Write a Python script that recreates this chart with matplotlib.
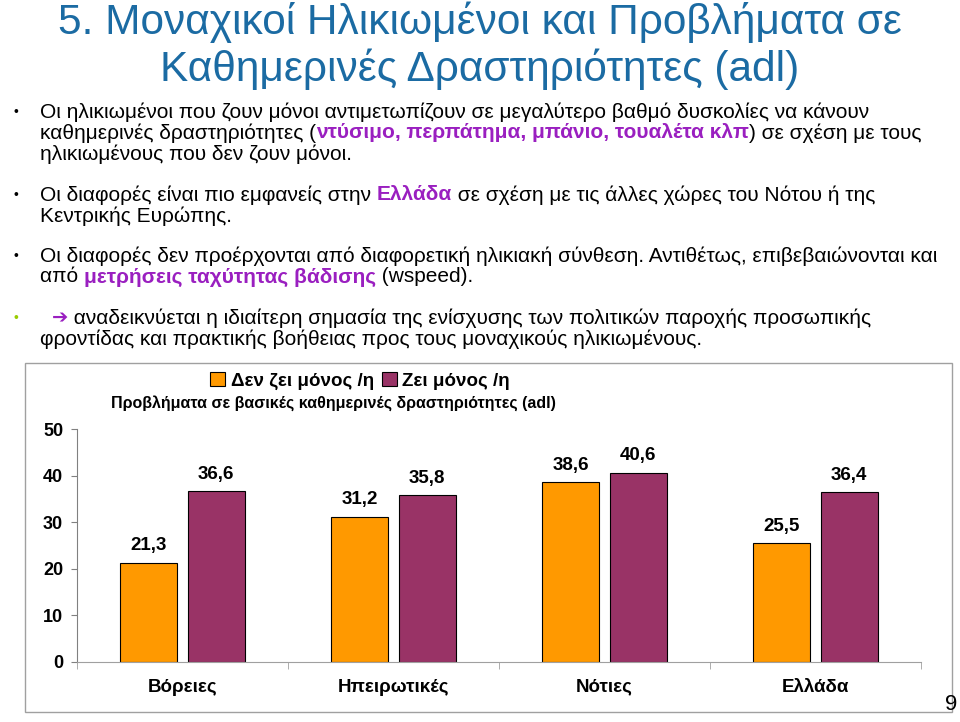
import numpy as np
import matplotlib
matplotlib.use('Agg')
import matplotlib.pyplot as plt
from matplotlib.patches import Rectangle

# data
regions = ['Βόρειες', 'Ηπειρωτικές', 'Νότιες', 'Ελλάδα']
not_alone = [21.3, 31.2, 38.6, 25.5]
alone = [36.6, 35.8, 40.6, 36.4]
series_names = ['Δεν ζει μόνος /η', 'Ζει μόνος /η']
y_ticks = [0, 10, 20, 30, 40, 50]

title_lines = ['5. Μοναχικοί Ηλικιωμένοι και Προβλήματα σε',
               'Καθημερινές Δραστηριότητες (adl)']
chart_title = 'Προβλήματα σε βασικές καθημερινές δραστηριότητες (adl)'

W, H = 960, 722
NARROW = ['Liberation Sans Narrow', 'Liberation Sans', 'DejaVu Sans']
ARIAL = ['Liberation Sans', 'DejaVu Sans']
BLUE = '#1B6BA3'
VIOLET = '#9A1FC0'
ORANGE = '#FF9900'
PLUM = '#993366'

fig = plt.figure(figsize=(W / 100, H / 100), dpi=100)
fig.patch.set_facecolor('white')
renderer = fig.canvas.get_renderer()


def fx(px):
    return px / W


def fy(py):
    return 1 - py / H


def seg_width(s, **kw):
    a = fig.text(0, 0, 'x' + s + 'x', **kw)
    b = fig.text(0, 0, 'xx', **kw)
    w = a.get_window_extent(renderer).width - b.get_window_extent(renderer).width
    a.remove()
    b.remove()
    return w


def draw_line(x, y, parts, size=15):
    # parts: list of (text, color, weight[, family, size])
    for p in parts:
        s, c, wgt = p[:3]
        fam = p[3] if len(p) > 3 else NARROW
        sz = p[4] if len(p) > 4 else size
        kw = dict(fontsize=sz, family=fam, fontweight=wgt, color=c)
        fig.text(fx(x), fy(y), s, va='center', ha='left', **kw)
        x += seg_width(s, **kw)


# title
for i, line in enumerate(title_lines):
    fig.text(0.5, fy(22 + i * 47), line, ha='center', va='center',
             fontsize=30.5, family=NARROW, color=BLUE)

# bullets
k = 'black'
bullets = [
    (112, 'black', [
        [('Οι ηλικιωμένοι που ζουν μόνοι αντιμετωπίζουν σε μεγαλύτερο βαθμό δυσκολίες να κάνουν', k, 'normal')],
        [('καθημερινές δραστηριότητες (', k, 'normal'),
         ('ντύσιμο, περπάτημα, μπάνιο, τουαλέτα κλπ', VIOLET, 'bold'),
         (') σε σχέση με τους', k, 'normal')],
        [('ηλικιωμένους που δεν ζουν μόνοι.', k, 'normal')]]),
    (195, 'black', [
        [('Οι διαφορές είναι πιο εμφανείς στην ', k, 'normal'),
         ('Ελλάδα', VIOLET, 'bold'),
         (' σε σχέση με τις άλλες χώρες του Νότου ή της', k, 'normal')],
        [('Κεντρικής Ευρώπης.', k, 'normal')]]),
    (256, 'black', [
        [('Οι διαφορές δεν προέρχονται από διαφορετική ηλικιακή σύνθεση. Αντιθέτως, επιβεβαιώνονται και', k, 'normal')],
        [('από ', k, 'normal'),
         ('μετρήσεις ταχύτητας βάδισης', VIOLET, 'bold'),
         (' (wspeed).', k, 'normal')]]),
    (318, '#99CC00', [
        [('  ', k, 'normal'),
         ('➔', VIOLET, 'bold', ['DejaVu Sans'], 14),
         (' αναδεικνύεται η ιδιαίτερη σημασία της ενίσχυσης των πολιτικών παροχής προσωπικής', k, 'normal')],
        [('φροντίδας και πρακτικής βοήθειας προς τους μοναχικούς ηλικιωμένους.', k, 'normal')]]),
]
for y0, dot_c, lines in bullets:
    fig.text(fx(14), fy(y0), '•', fontsize=10, color=dot_c, va='center', family=ARIAL)
    for j, parts in enumerate(lines):
        draw_line(40, y0 + j * 21, parts)

# chart frame
fig.patches.append(Rectangle((fx(25), fy(712)), fx(952) - fx(25), fy(363) - fy(712),
                             transform=fig.transFigure, fill=False,
                             edgecolor='#A0A0A0', linewidth=1))

ax = fig.add_axes([fx(77), fy(662), fx(921) - fx(77), (662 - 429) / H])
x = np.arange(len(regions))
bw = 0.27
off = 0.16
b1 = ax.bar(x - off, not_alone, bw, color=ORANGE, edgecolor='black', linewidth=0.8,
            label=series_names[0])
b2 = ax.bar(x + off, alone, bw, color=PLUM, edgecolor='black', linewidth=0.8,
            label=series_names[1])
for bars, vals in ((b1, not_alone), (b2, alone)):
    for r, v in zip(bars, vals):
        ax.annotate(('%.1f' % v).replace('.', ','),
                    (r.get_x() + r.get_width() / 2, v), xytext=(0, 6),
                    textcoords='offset points', ha='center', va='bottom',
                    fontsize=13.5, fontweight='bold', family=ARIAL)

ax.set_xlim(-0.5, len(regions) - 0.5)
ax.set_ylim(0, 50)
ax.set_yticks(y_ticks)
ax.set_yticklabels([str(t) for t in y_ticks], fontsize=13, fontweight='bold', family=ARIAL)
ax.set_xticks(x)
ax.set_xticklabels(regions, fontsize=13.5, fontweight='bold', family=ARIAL)
ax.set_xticks(np.arange(-0.5, len(regions)), minor=True)
ax.tick_params(axis='x', which='major', length=0, pad=12)
ax.tick_params(axis='x', which='minor', length=5, color='#A0A0A0', direction='out')
ax.tick_params(axis='y', length=4, color='#808080', pad=6)
for s in ('top', 'right'):
    ax.spines[s].set_visible(False)
ax.spines['left'].set_color('#808080')
ax.spines['bottom'].set_color('#A0A0A0')
ax.patch.set_alpha(0)

fig.legend(handles=[b1, b2], loc='center', bbox_to_anchor=(fx(360), fy(381)),
           ncol=2, frameon=False, handlelength=0.8, handleheight=0.8,
           handletextpad=0.3, columnspacing=0.4,
           prop={'family': ARIAL, 'weight': 'bold', 'size': 13.5})
fig.text(fx(111), fy(403), chart_title, ha='left', va='center',
         fontsize=11.5, fontweight='bold', family=ARIAL)

fig.text(fx(957), fy(704), '9', ha='right', va='center', fontsize=16, family=NARROW)

fig.savefig('out.png', dpi=100)
